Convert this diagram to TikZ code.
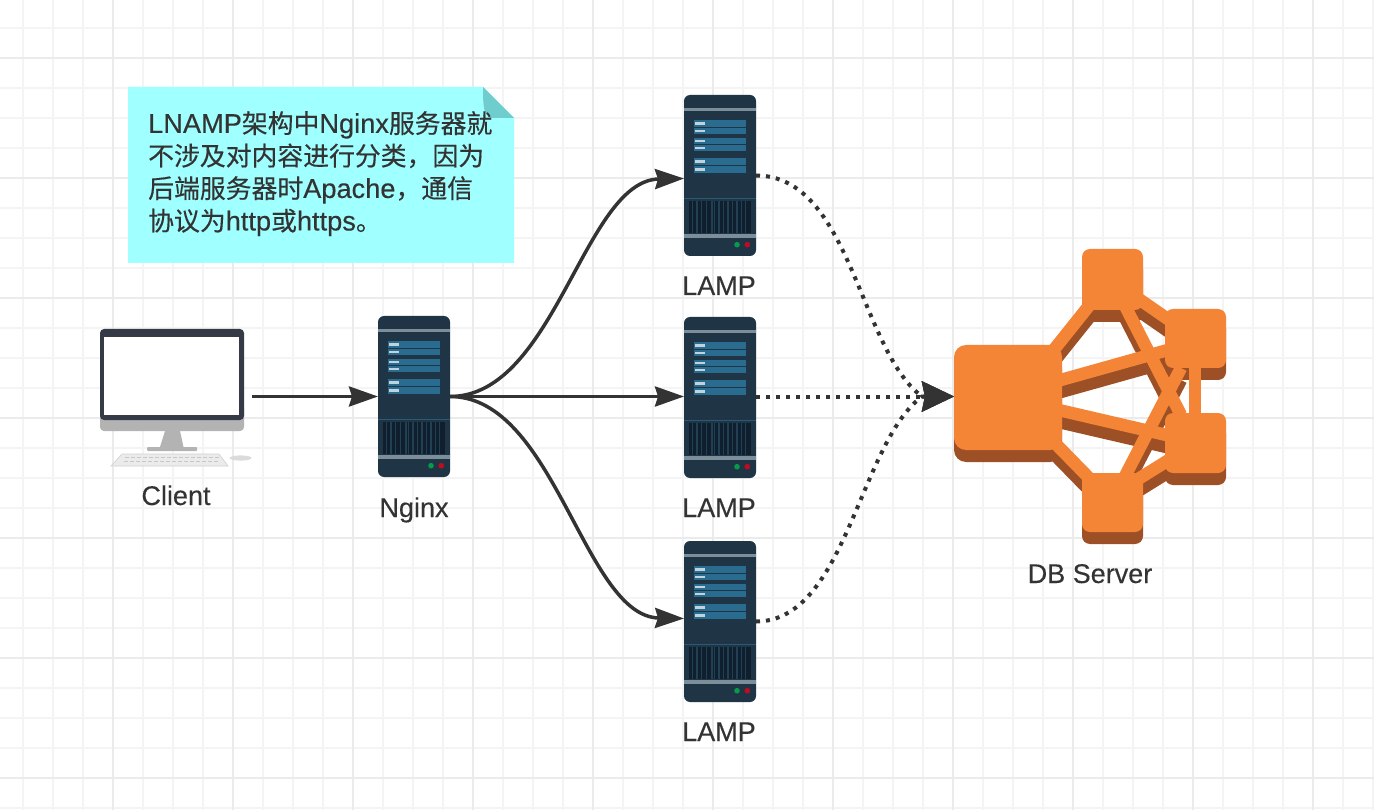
\documentclass[tikz,border=0pt]{standalone}
\usepackage{fontspec}
\setmainfont{Liberation Sans}[FakeBold=0.2]
\newfontfamily\cjk{Noto Sans CJK SC}[FakeBold=0.3,Scale=0.95]
\newfontfamily\notelatin{Liberation Sans}[FakeBold=0.3]
\usetikzlibrary{arrows.meta,calc}
\definecolor{ink}{HTML}{333333}
\definecolor{gridminor}{HTML}{F4F4F4}
\definecolor{gridmajor}{HTML}{EBEBEB}
\definecolor{srvbody}{HTML}{1F3545}
\definecolor{srvband}{HTML}{7C8E99}
\definecolor{srvbar}{HTML}{2A6C8F}
\definecolor{srvgrille}{HTML}{0F1F2D}
\definecolor{orange}{HTML}{F58536}
\definecolor{orangedark}{HTML}{9D5025}
\definecolor{notebg}{HTML}{A0FFFF}
\definecolor{notefold}{HTML}{6FCDCD}
\definecolor{bezel}{HTML}{353A46}
\definecolor{chin}{HTML}{B3B3B3}
\newcommand{\zh}[1]{{\cjk #1}}
\tikzset{
  x=1pt,y=-1pt,
  anchorbox/.style={inner sep=0pt,outer sep=0pt,minimum width=#1},
  srvnode/.style={inner sep=0pt,outer sep=0pt,minimum width=72pt,minimum height=161pt},
  label text/.style={text=ink,font=\fontsize{27}{30}\selectfont,inner sep=0pt,anchor=base},
  solid link/.style={draw=ink,line width=3.5pt,-{Stealth[length=29pt,width=20pt,inset=3pt]}},
  dotted link/.style={draw=ink,line width=4pt,dash pattern=on 4pt off 6pt,-{Stealth[length=32pt,width=30pt,inset=3pt]}},
  dblink/.style={line width=12.5pt},
  server/.pic={
    \fill[srvbody,rounded corners=6pt] (0,0) rectangle (72,161);
    \fill[srvband] (0,13.3) rectangle (72,16);
    \foreach \a/\b in {24.7/31.7,32.9/38.6,42.7/48.7,50/56,63.3/69.7,71.3/77.7}{
      \fill[srvbar] (10.3,\a) rectangle (62,\b);
      \fill[white!70!srvbar] (11.3,{\a+2}) rectangle (21.3,{\b-2});
    }
    \draw[srvbar!70!srvbody,line width=.8pt] (0,103) -- (72,103);
    \fill[srvgrille] (4.7,105.7) rectangle (66.7,138);
    \foreach \x/\w in {8/1.2,12/1.6,17/1.2,22/1,27/1.6,30/1,34/1.6,39/1,43/1.6,48/1,52/1.6,57/1.2,61/1.4}{
      \fill[srvbody!80!srvbar] (\x,105.7) rectangle ({\x+\w},138);
    }
    \fill[srvband] (0,139) rectangle (72,143.3);
    \fill[green!40!teal!80!srvbody] (53,149.7) circle (2.8);
    \fill[red!65!purple!80!srvbody] (63.3,149.7) circle (2.8);
  },
}
\begin{document}
\begin{tikzpicture}
\useasboundingbox (0,0) rectangle (1374,810);
\fill[white] (0,0) rectangle (1374,810);
% grid
\foreach \k in {0,...,45}{\draw[gridminor,line width=1.6pt] ({23+30*\k},0) -- ({23+30*\k},810);}
\foreach \k in {0,...,26}{\draw[gridminor,line width=1.6pt] (0,{28+30*\k}) -- (1374,{28+30*\k});}
\foreach \k in {0,...,10}{\draw[gridmajor,line width=1.6pt] ({113+120*\k},0) -- ({113+120*\k},810);}
\foreach \k in {0,...,6}{\draw[gridmajor,line width=1.6pt] (0,{58+120*\k}) -- (1374,{58+120*\k});}
% note
\fill[notebg] (128,87) -- (483,87) -- (514,118) -- (514,263) -- (128,263) -- cycle;
\fill[notefold] (483,87) -- (514,118) -- (490,118) .. controls (484,114) and (483,108) .. cycle;
\node[anchor=north west,inner sep=0pt,align=left,text=ink,font=\notelatin\fontsize{27.2}{32.5}\selectfont] (note) at (148,111)
 {LNAMP\zh{架构中}Nginx\zh{服务器就}\\\zh{不涉及对内容进行分类^^^^ff0c因为}\\\zh{后端服务器时}Apache\zh{^^^^ff0c通信}\\\zh{协议为}http\zh{或}https\zh{。}};
% nodes
\node[anchorbox=160pt,minimum height=140pt] (client) at (172,396.5) {};
\node[srvnode] (nginx) at (414,396.5) {};
\node[srvnode] (lamp1) at (720,175.5) {};
\node[srvnode] (lamp2) at (720,397.5) {};
\node[srvnode] (lamp3) at (720,621.5) {};
\node[anchorbox=272pt,minimum height=294pt] (db) at (1090,396.5) {};
\pic at (378,316) {server};
\pic at (684,95) {server};
\pic at (684,317) {server};
\pic at (684,541) {server};
% client
\fill[chin,rounded corners=4pt] (100,405) rectangle (244,431);
\fill[bezel,rounded corners=4pt] (100,329) -- (244,329) -- (244,420) -- (100,420) -- cycle;
\fill[white] (104,337) rectangle (238.5,415);
\fill[chin] (165,431) -- (180,431) -- (183.5,447) -- (160,447) -- cycle;
\fill[chin,rounded corners=1pt] (147,447) rectangle (197,451);
\fill[black!8] (122,454) -- (219,454) -- (228,466) -- (111,466) -- cycle;
\draw[black!18,line width=.6pt] (122,454) -- (219,454) -- (228,466) -- (111,466) -- cycle;
\foreach \x in {125,131,...,215}{\fill[black!22] (\x,456.5) rectangle +(3.5,1.2);\fill[black!22] ({\x-1},460.5) rectangle +(3.5,1.2);}
\fill[black!14] (240.5,458) ellipse (11 and 2.6);
% db icon
\def\dblinks{1048/357/1092/302,1052/440/1092/481,1050/383/1175/348,1050/408/1175/437,1136/297/1172/322,1122/300/1181/415,1122/482/1181/368,1195/360/1195/420,1135/481/1172/458}
\def\dbsquares{954/345/1062/450/12,1082/249/1143/310/8,1165/309/1226/368/8,1165/413/1226/473/8,1082/473/1143/532/8}
\foreach \xa/\ya/\xb/\yb in \dblinks {\draw[orangedark,dblink] (\xa,{\ya+12}) -- (\xb,{\yb+12});}
\foreach \xa/\ya/\xb/\yb/\r in \dbsquares {\fill[orangedark,rounded corners=\r pt] (\xa,{\ya+12}) rectangle (\xb,{\yb+12});}
\foreach \xa/\ya/\xb/\yb in \dblinks {\draw[orange,dblink] (\xa,\ya) -- (\xb,\yb);}
\foreach \xa/\ya/\xb/\yb/\r in \dbsquares {\fill[orange,rounded corners=\r pt] (\xa,\ya) rectangle (\xb,\yb);}
% connectors
\draw[solid link] (client.east) -- (nginx.west);
\draw[solid link] (nginx.east) .. controls +(105,0) and +(-100,2) .. ([yshift=-3pt]lamp1.west);
\draw[solid link] (nginx.east) -- (nginx.east -| lamp2.west);
\draw[solid link] (nginx.east) .. controls +(105,0) and +(-100,-2) .. ([yshift=3pt]lamp3.west);
\draw[dotted link] (lamp1.east) .. controls +(95,0) and ($(db.west)+(-95,-47)$) .. ($(db.west)+(-32,0)$) -- (db.west);
\draw[dotted link] (lamp2.east |- db.west) -- (db.west);
\draw[dotted link] (lamp3.east) .. controls +(90,0) and ($(db.west)+(-95,47)$) .. ($(db.west)+(-32,0)$) -- (db.west);
% labels
\node[label text] (clientlabel) at (176,505) {Client};
\node[label text] (nginxlabel) at (414,517) {Nginx};
\node[label text] (lamplabela) at (719,295) {LAMP};
\node[label text] (lamplabelb) at (719,517) {LAMP};
\node[label text] (lamplabelc) at (719,741) {LAMP};
\node[label text] (dblabel) at (1090,583) {DB Server};
\end{tikzpicture}
\end{document}
